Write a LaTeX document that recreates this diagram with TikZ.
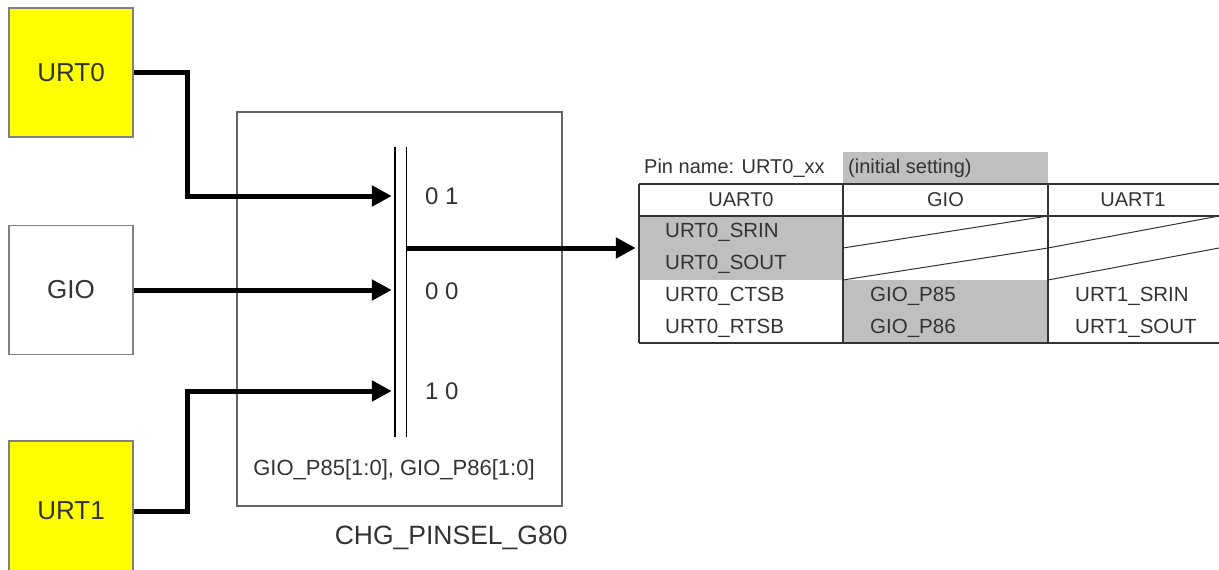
\documentclass[tikz,border=0pt]{standalone}
\usepackage{fontspec}
\setmainfont{Liberation Sans}
\usetikzlibrary{arrows.meta,positioning}
\definecolor{chipyellow}{rgb}{1,1,0}
\definecolor{cellgray}{gray}{0.75}
\definecolor{ink}{gray}{0.2}
\tikzset{
	block/.style={
		draw=black!50, line width=1.5pt, rectangle,
		minimum width=124pt, minimum height=129pt,
		inner sep=0pt, text=ink,
		font=\fontsize{26}{30}\selectfont
	},
	uart/.style={block, fill=chipyellow},
	frame/.style={draw=black!60, line width=1.5pt, inner sep=0pt},
	bus/.style={line width=5pt, shorten >=3pt,
		-{Triangle[length=20pt,width=20pt]}},
	rule/.style={draw=ink, line width=1.4pt},
	diag/.style={draw=ink, line width=1pt},
	port/.style={inner sep=0pt, text=ink, font=\fontsize{24}{28}\selectfont},
	caption/.style={inner sep=0pt, text=ink, font=\fontsize{22}{26}\selectfont},
	tabtext/.style={inner sep=0pt, text=ink, font=\fontsize{20.5}{24}\selectfont},
	tabhead/.style={tabtext, font=\fontsize{20}{24}\selectfont},
	shade/.style={fill=cellgray, inner sep=0pt, minimum width=205pt}
}

\begin{document}
\begin{tikzpicture}[x=1pt, y=-1pt]
	\useasboundingbox (0,0) rectangle (1219,570);
	\node[uart] (urt0) at (71,72.5) {URT0};
	\node[block] (gio) at (71,290) {GIO};
	\node[uart, minimum height=140pt] (urt1) at (71,511) {URT1};
	\node[frame, minimum width=325pt, minimum height=394pt] (pinsel) at (399.5,309) {};
	\node[caption, font=\fontsize{26.5}{30}\selectfont] (pinselname) [below left=19pt and -5pt of pinsel.south east] {CHG\_PINSEL\_G80};
	\node[caption] (selbits) at (394,470) {GIO\_P85[1:0], GIO\_P86[1:0]};
	\node[minimum width=11pt, minimum height=290pt, inner sep=0pt] (bar) at (400.5,292) {};
	\draw[rule, draw=black] (bar.north west) -- (bar.south west) (bar.north east) -- (bar.south east);
	\node[port, anchor=west] (p01) at (425,196) {0 1};
	\node[port, anchor=west] (p00) at (425,291) {0 0};
	\node[port, anchor=west] (p10) at (425,391) {1 0};
	\node[shade, minimum height=32pt] (initcell) at (945.5,168) {};
	\node[shade, minimum height=64pt, minimum width=204pt] (srcell) at (741,248) {};
	\node[shade, minimum height=63pt] (giocell) at (945.5,311.5) {};
	\draw[rule] (639,184) -- (1219,184) (639,216) -- (1219,216) (639,343) -- (1219,343);
	\foreach \x in {639,843,1048}
		\draw[rule] (\x,184) -- (\x,343);
	\foreach \a/\b in {843/1048,1048/1219}
		\draw[diag] (\a,248) -- (\b,216) (\a,280) -- (\b,248);
	\node[tabhead, anchor=west] (pinname) at (644,168) {Pin name: URT0\_xx};
	\node[tabhead, anchor=west] (initname) at (848,168) {(initial setting)};
	\node[tabhead] (hduart0) at (741,200) {UART0};
	\node[tabhead] (hdgio) at (945.5,200) {GIO};
	\node[tabhead] (hduart1) at (1133,200) {UART1};
	\foreach \n/\t [count=\i] in {srin/SRIN,sout/SOUT,ctsb/CTSB,rtsb/RTSB}
		\node[tabtext, anchor=west] (u0\n) at (665,200+32*\i) {URT0\_\t};
	\node[tabtext, anchor=west] (gp85) at (870,296) {GIO\_P85};
	\node[tabtext, anchor=west] (gp86) at (870,328) {GIO\_P86};
	\node[tabtext, anchor=west] (u1srin) at (1075,296) {URT1\_SRIN};
	\node[tabtext, anchor=west] (u1sout) at (1075,328) {URT1\_SOUT};
	\draw[bus] (urt0.east) -- ++(54,0) |- (bar.west |- p01);
	\draw[bus] (gio.east) -- (bar.west |- gio.east);
	\draw[bus] (urt1.east) -- ++(54,0) |- (bar.west |- p10);
	\draw[bus] (bar.east |- srcell.west) -- (srcell.west);
\end{tikzpicture}
\end{document}
